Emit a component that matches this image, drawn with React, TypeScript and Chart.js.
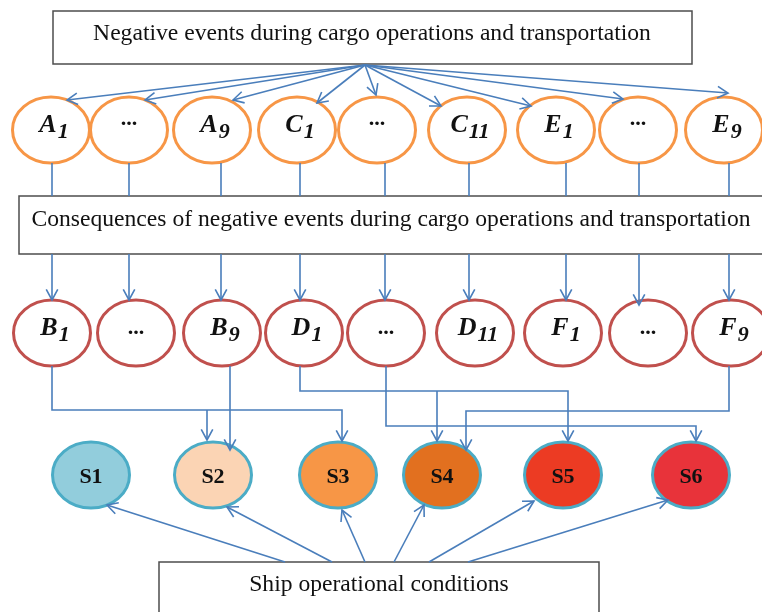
import React, { useEffect, useRef } from "react";
import { Chart, registerables } from "chart.js";
Chart.register(...registerables);

const W = 762;
const H = 612;

// Node rows
const eventBase = ["A", "...", "A", "C", "...", "C", "E", "...", "E"];
const eventSub = ["1", "", "9", "1", "", "11", "1", "", "9"];
const eventX = [51, 129, 212, 297, 377, 467, 556, 638, 724];
const eventY = 130;

const consBase = ["B", "...", "B", "D", "...", "D", "F", "...", "F"];
const consSub = ["1", "", "9", "1", "", "11", "1", "", "9"];
const consX = [52, 136, 222, 304, 386, 475, 563, 648, 731];
const consY = 333;

const stateLabels = ["S1", "S2", "S3", "S4", "S5", "S6"];
const stateX = [91, 213, 338, 442, 563, 691];
const stateY = 475;
const stateFill = ["#92CDDC", "#FBD4B4", "#F79646", "#E2701F", "#EC3B23", "#E8333A"];

const nodeRx = 38.5;
const nodeRy = 33;

// Text boxes
const boxTexts = [
  "Negative events during cargo operations and transportation",
  "Consequences of negative events during cargo operations and transportation",
  "Ship operational conditions",
];
const boxX0 = [53, 19, 159];
const boxX1 = [692, 775, 599];
const boxY0 = [11, 196, 562];
const boxY1 = [64, 254, 640];
const boxTextX = [372, 391, 379];
const boxTextY = [40, 226, 591];

// Fan from top box to event nodes
const fanOrigin = [365, 65];
const fanTipX = [67, 145, 233, 317, 376, 441, 531, 623, 728];
const fanTipY = [100, 100, 100, 103, 95, 106, 106, 99, 93];

// Event nodes -> consequences box (plain lines), box -> consequence nodes (arrows)
const linkX = [52, 129, 221, 300, 385, 469, 566, 639, 729];
const linkTopY0 = 163;
const linkTopY1 = 196;
const linkBotY0 = 254;
const linkBotTipY = [300, 300, 300, 300, 300, 300, 300, 305, 300];

// Consequence nodes -> ship states (routed polylines, arrow at end)
const routes: number[][][] = [
  [[52, 366], [52, 410], [342, 410], [342, 441]],
  [[207, 410], [207, 440]],
  [[230, 366], [230, 450]],
  [[300, 366], [300, 391], [568, 391], [568, 441]],
  [[437, 391], [437, 441]],
  [[386, 366], [386, 426], [696, 426], [696, 441]],
  [[729, 366], [729, 411], [466, 411], [466, 450]],
];

// Ship operational conditions -> states
const condStartX = [285, 332, 365, 394, 429, 468];
const condStartY = 562;
const condTipX = [107, 227, 342, 424, 534, 668];
const condTipY = [505, 507, 510, 505, 501, 500];

const BLUE = "#4A7EBB";

function lineDs(pts: number[][], arrow: boolean) {
  return {
    type: "scatter" as const,
    data: pts.map(([x, y]) => ({ x, y })),
    showLine: true,
    borderColor: BLUE,
    backgroundColor: BLUE,
    borderWidth: 1.6,
    pointRadius: 0,
    fill: false,
    tension: 0,
    arrow,
  };
}

export default function App() {
  const ref = useRef<HTMLCanvasElement>(null);
  useEffect(() => {
    if (!ref.current) return;
    const datasets: any[] = [];
    datasets.push({ type: "scatter", data: eventX.map((x) => ({ x, y: eventY })), pointRadius: 0, nodeKind: "event" });
    datasets.push({ type: "scatter", data: consX.map((x) => ({ x, y: consY })), pointRadius: 0, nodeKind: "cons" });
    datasets.push({ type: "scatter", data: stateX.map((x) => ({ x, y: stateY })), pointRadius: 0, nodeKind: "state" });
    fanTipX.forEach((x, i) => datasets.push(lineDs([fanOrigin, [x, fanTipY[i]]], true)));
    linkX.forEach((x) => datasets.push(lineDs([[x, linkTopY0], [x, linkTopY1]], false)));
    linkX.forEach((x, i) => datasets.push(lineDs([[x, linkBotY0], [x, linkBotTipY[i]]], true)));
    routes.forEach((r) => datasets.push(lineDs(r, true)));
    condStartX.forEach((x, i) => datasets.push(lineDs([[x, condStartY], [condTipX[i], condTipY[i]]], true)));

    const plugin = {
      id: "diagram",
      beforeDatasetsDraw(chart: any) {
        const ctx = chart.ctx as CanvasRenderingContext2D;
        const xs = chart.scales.x;
        const ys = chart.scales.y;
        const px = (v: number) => xs.getPixelForValue(v);
        const py = (v: number) => ys.getPixelForValue(v);
        ctx.save();
        ctx.fillStyle = "#ffffff";
        ctx.fillRect(0, 0, chart.width, chart.height);
        // boxes
        boxTexts.forEach((t, i) => {
          const x0 = px(boxX0[i]), x1 = px(boxX1[i]), y0 = py(boxY0[i]), y1 = py(boxY1[i]);
          ctx.fillStyle = "#ffffff";
          ctx.fillRect(x0, y0, x1 - x0, y1 - y0);
          ctx.strokeStyle = "#4d4d4d";
          ctx.lineWidth = 1.5;
          ctx.strokeRect(x0, y0, x1 - x0, y1 - y0);
          ctx.fillStyle = "#111111";
          ctx.font = "23.6px 'Liberation Serif', 'Times New Roman', serif";
          ctx.textAlign = "center";
          ctx.textBaseline = "alphabetic";
          ctx.fillText(t, px(boxTextX[i]), py(boxTextY[i]));
        });
        const rxPx = Math.abs(px(nodeRx) - px(0));
        const ryPx = Math.abs(py(nodeRy) - py(0));
        chart.data.datasets.forEach((ds: any, di: number) => {
          if (!ds.nodeKind) return;
          const meta = chart.getDatasetMeta(di);
          meta.data.forEach((pt: any, j: number) => {
            ctx.beginPath();
            ctx.ellipse(pt.x, pt.y, rxPx, ryPx, 0, 0, Math.PI * 2);
            if (ds.nodeKind === "state") {
              ctx.fillStyle = stateFill[j];
              ctx.fill();
              ctx.strokeStyle = "#4BACC6";
            } else {
              ctx.fillStyle = "#ffffff";
              ctx.fill();
              ctx.strokeStyle = ds.nodeKind === "event" ? "#F79646" : "#C0504D";
            }
            ctx.lineWidth = 3;
            ctx.stroke();
            ctx.fillStyle = "#111111";
            ctx.textBaseline = "alphabetic";
            if (ds.nodeKind === "state") {
              ctx.font = "bold 22px 'Liberation Serif', serif";
              ctx.textAlign = "center";
              ctx.fillText(stateLabels[j], pt.x, pt.y + 8);
              return;
            }
            const base = ds.nodeKind === "event" ? eventBase[j] : consBase[j];
            const sub = ds.nodeKind === "event" ? eventSub[j] : consSub[j];
            if (base === "...") {
              ctx.font = "bold 22px 'Liberation Serif', serif";
              ctx.textAlign = "center";
              ctx.fillText("...", pt.x, pt.y + (ds.nodeKind === "event" ? -5 : 1));
              return;
            }
            const mainFont = "italic bold 26px 'Liberation Serif', serif";
            const subFont = "italic bold 22px 'Liberation Serif', serif";
            ctx.font = mainFont;
            const wMain = ctx.measureText(base).width;
            ctx.font = subFont;
            const wSub = ctx.measureText(sub).width;
            const total = wMain + 1 + wSub;
            const startX = pt.x - total / 2 + 3;
            ctx.textAlign = "left";
            ctx.font = mainFont;
            ctx.fillText(base, startX, pt.y + 2);
            ctx.font = subFont;
            ctx.fillText(sub, startX + wMain + 1, pt.y + 8);
          });
        });
        ctx.restore();
      },
      afterDatasetsDraw(chart: any) {
        const ctx = chart.ctx as CanvasRenderingContext2D;
        ctx.save();
        chart.data.datasets.forEach((ds: any, di: number) => {
          if (!ds.arrow) return;
          const meta = chart.getDatasetMeta(di);
          const n = meta.data.length;
          const a = meta.data[n - 2];
          const b = meta.data[n - 1];
          const ang = Math.atan2(b.y - a.y, b.x - a.x);
          const len = 12;
          const spread = 0.5;
          ctx.strokeStyle = BLUE;
          ctx.lineWidth = 1.6;
          ctx.beginPath();
          ctx.moveTo(b.x - len * Math.cos(ang - spread), b.y - len * Math.sin(ang - spread));
          ctx.lineTo(b.x, b.y);
          ctx.lineTo(b.x - len * Math.cos(ang + spread), b.y - len * Math.sin(ang + spread));
          ctx.stroke();
        });
        ctx.restore();
      },
    };

    const chart = new Chart(ref.current, {
      type: "scatter",
      data: { datasets },
      options: {
        animation: false,
        responsive: false,
        events: [],
        layout: { padding: 0 },
        plugins: { legend: { display: false }, tooltip: { enabled: false } },
        scales: {
          x: { type: "linear", min: 0, max: W, display: false },
          y: { type: "linear", min: 0, max: H, reverse: true, display: false },
        },
      } as any,
      plugins: [plugin as any],
    });
    return () => chart.destroy();
  }, []);
  return (
    <div style={{ position: "fixed", left: 0, top: 0, width: W, height: H, background: "#fff" }}>
      <canvas ref={ref} width={W} height={H} style={{ display: "block" }} />
    </div>
  );
}
